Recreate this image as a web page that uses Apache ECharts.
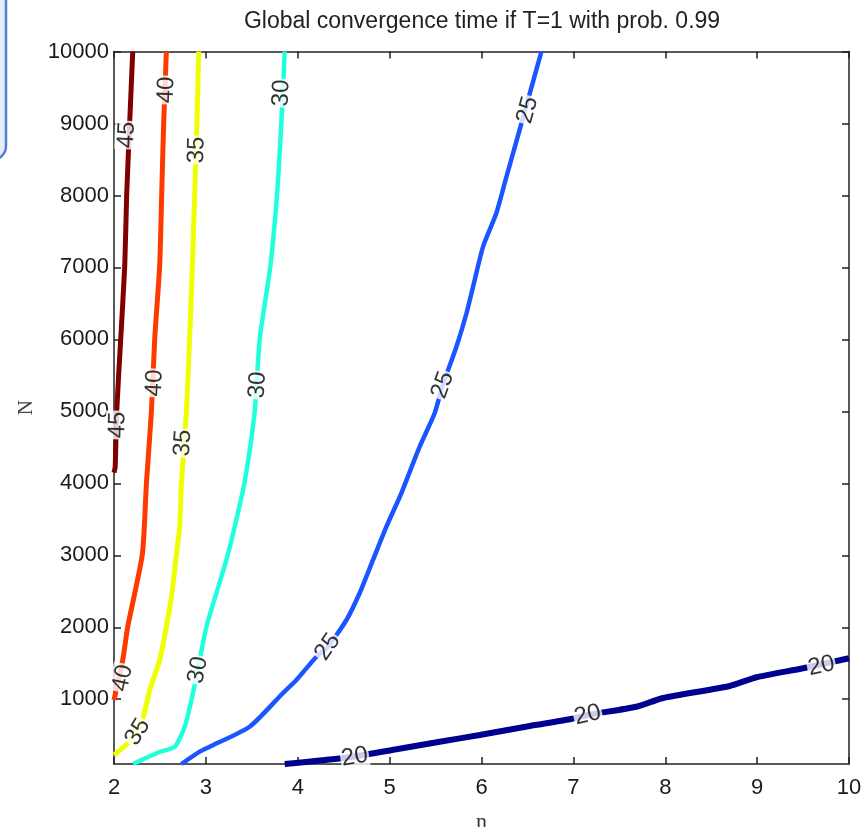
<!DOCTYPE html>
<html>
<head>
<meta charset="utf-8">
<script src="https://cdn.jsdelivr.net/npm/echarts@6/dist/echarts.min.js"></script>
<style>
html, body { margin: 0; padding: 0; background: #fff; }
#box1 { width: 866px; height: 827px; }
</style>
</head>
<body>
<div id="box1"></div>
<script>
const sTitle = 'Global convergence time if T=1 with prob. 0.99';
const aXTicks = [2, 3, 4, 5, 6, 7, 8, 9, 10];
const aYTicks = [1000, 2000, 3000, 4000, 5000, 6000, 7000, 8000, 9000, 10000];
const aLevels = [45, 40, 35, 30, 25, 20];

// contour lines, [n, N]
const line45 = [[2.204,10000],[2.171,9020],[2.138,8006],[2.117,7020],[2.073,6005],[2.029,4991],[2.013,4227],[2.0,4150]];
const line40 = [[2.570,10000],[2.541,9020],[2.519,8006],[2.497,7020],[2.443,6005],[2.407,4991],[2.353,4005],[2.309,3018],[2.149,2004],[2.095,1545],[2.0,989]];
const line35 = [[2.922,10000],[2.903,9020],[2.878,8006],[2.853,7020],[2.823,6005],[2.788,4991],[2.734,4005],[2.715,3397],[2.679,3018],[2.636,2518],[2.570,2004],[2.497,1545],[2.389,1128],[2.313,739],[2.149,392],[2.0,225]];
const line30 = [[3.858,10000],[3.822,9020],[3.774,8006],[3.702,7020],[3.586,6005],[3.531,4991],[3.420,4005],[3.314,3397],[3.223,2935],[3.115,2476],[3.006,2008],[2.911,1406],[2.860,1087],[2.770,618],[2.661,340],[2.497,267],[2.370,197],[2.207,100]];
const line25 = [[6.652,10000],[6.475,9187],[6.353,8631],[6.262,8215],[6.162,7756],[6.017,7288],[5.926,6825],[5.836,6360],[5.727,5898],[5.578,5365],[5.491,4977],[5.327,4509],[5.128,3865],[4.965,3397],[4.819,2935],[4.674,2476],[4.530,2101],[4.326,1726],[4.203,1591],[3.985,1267],[3.840,1087],[3.477,618],[3.042,340],[2.933,271],[2.734,100]];
const line20 = [[3.858,100],[4.493,183],[5.074,304],[5.545,410],[5.981,503],[6.525,628],[6.961,721],[7.157,781],[7.686,896],[7.976,1017],[8.702,1184],[8.993,1305],[9.500,1430],[10.0,1569]];

// where the level numbers sit on the lines
const label45 = [[2.139,8840],[2.040,4810]];
const label40 = [[2.570,9465],[2.443,5394],[2.096,1295]];
const label35 = [[2.900,8631],[2.751,4560],[2.258,545]];
const label30 = [[3.822,9423],[3.564,5365],[2.915,1406]];
const label25 = [[6.503,9187],[5.578,5365],[4.326,1726]];
const label20 = [[4.620,197],[7.157,781],[9.700,1462]];

const aLines = [line45, line40, line35, line30, line25, line20];
const aLabels = [label45, label40, label35, label30, label25, label20];
const aColors = ['#800000', '#ff3a00', '#eeff00', '#22ffdd', '#1a55ff', '#000090'];
const aWidths = [5, 5, 5, 4.5, 4.5, 6];

const sFont = "'Liberation Sans', Arial, sans-serif";
const sSerif = "'Liberation Serif', 'Times New Roman', serif";

const oChart = echarts.init(document.getElementById('box1'));

const oAxisLine = { show: true, lineStyle: { color: '#222', width: 1.5 } };
const oTick = { show: true, inside: true, length: 7, lineStyle: { color: '#222', width: 1.5 } };

function buildSeries(aRot){
    const series = [];
    aLines.forEach((cur, i) => {
        series.push({
            type: 'line',
            name: String(aLevels[i]),
            data: cur,
            showSymbol: false,
            smooth: 0.2,
            lineStyle: { color: aColors[i], width: aWidths[i] },
            z: 2,
        });
    });
    aLabels.forEach((cur, i) => {
        series.push({
            type: 'scatter',
            data: cur.map((pt, j) => ({
                value: pt,
                label: { rotate: aRot ? aRot[i][j] : 0 },
            })),
            symbolSize: 1,
            itemStyle: { color: 'rgba(0,0,0,0)' },
            label: {
                show: true,
                position: 'inside',
                formatter: String(aLevels[i]),
                fontFamily: sFont,
                fontSize: 24,
                color: '#000',
                textBorderWidth: 0,
                backgroundColor: '#fff',
                padding: [0, 1],
            },
            z: 10,
        });
    });
    return series;
}

const option = {
    animation: false,
    title: {
        text: sTitle,
        left: 477,
        top: 5,
        textAlign: 'center',
        textStyle: { fontFamily: sFont, fontSize: 23, fontWeight: 'normal', color: '#222' },
    },
    graphic: [{
        type: 'rect',
        shape: { x: -40, y: -20, width: 46, height: 180, r: [0, 0, 14, 0] },
        style: { fill: '#e4ecf8', stroke: '#4f7fd0', lineWidth: 2.5 },
    }],
    grid: { left: 114, right: 17, top: 51.5, bottom: 63, outerBoundsMode: 'none' },
    xAxis: [{
        type: 'value',
        min: 2, max: 10, interval: 1,
        name: 'n',
        nameLocation: 'middle',
        nameGap: 47,
        nameTextStyle: { fontFamily: sSerif, fontSize: 22, color: '#333' },
        axisLine: oAxisLine,
        axisTick: oTick,
        splitLine: { show: false },
        axisLabel: { margin: 13, fontFamily: sFont, fontSize: 22, color: '#1a1a1a' },
    }, {
        type: 'value',
        position: 'top',
        min: 2, max: 10, interval: 1,
        axisLine: oAxisLine,
        axisTick: oTick,
        splitLine: { show: false },
        axisLabel: { show: false },
    }],
    yAxis: [{
        type: 'value',
        min: 100, max: 10000,
        name: 'N',
        nameLocation: 'middle',
        nameGap: 69,
        nameTextStyle: { fontFamily: sSerif, fontSize: 21, color: '#444' },
        axisLine: oAxisLine,
        axisTick: { ...oTick, customValues: aYTicks },
        splitLine: { show: false },
        axisLabel: {
            margin: 5, fontFamily: sFont, fontSize: 22, color: '#1a1a1a',
            customValues: aYTicks,
            formatter: v => String(v),
        },
    }, {
        type: 'value',
        position: 'right',
        min: 100, max: 10000,
        axisLine: oAxisLine,
        axisTick: { ...oTick, customValues: aYTicks },
        splitLine: { show: false },
        axisLabel: { show: false, customValues: aYTicks },
    }],
    series: buildSeries(null),
};
oChart.setOption(option);

// ▼label angle = direction of the nearest segment, in pixels
function getAngle(aLine, pt){
    const p = oChart.convertToPixel({ seriesIndex: 0 }, pt);
    let best = Infinity, ang = 0;
    for (let i = 0; i < aLine.length - 1; i++){
        const a = oChart.convertToPixel({ seriesIndex: 0 }, aLine[i]);
        const b = oChart.convertToPixel({ seriesIndex: 0 }, aLine[i + 1]);
        const dx = b[0] - a[0], dy = b[1] - a[1];
        const len2 = dx * dx + dy * dy || 1;
        let t = ((p[0] - a[0]) * dx + (p[1] - a[1]) * dy) / len2;
        t = Math.max(0, Math.min(1, t));
        const qx = a[0] + t * dx - p[0], qy = a[1] + t * dy - p[1];
        const d = qx * qx + qy * qy;
        if (d < best){
            best = d;
            ang = Math.atan2(-dy, dx) * 180 / Math.PI;
        }
    }
    if (ang > 90) ang -= 180;
    if (ang < -90) ang += 180;
    return ang;
}

const aRot = aLabels.map((cur, i) => cur.map(pt => getAngle(aLines[i], pt)));
oChart.setOption({ series: buildSeries(aRot) });
</script>
</body>
</html>
